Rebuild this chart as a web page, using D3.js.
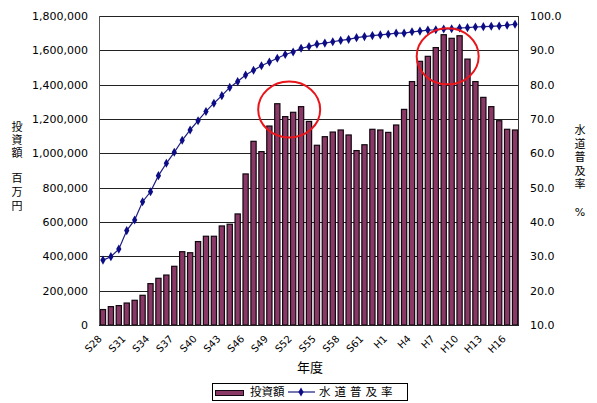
<!DOCTYPE html>
<html>
<head>
<meta charset="utf-8">
<script src="https://cdn.jsdelivr.net/npm/d3@7"></script>
<style>
  body { margin: 0; background: #fff; }
  text { font-family: "DejaVu Sans", sans-serif; fill: #000; }
  .jp { font-family: "Noto Sans CJK JP", sans-serif; }
  .vt { writing-mode: vertical-rl; text-orientation: upright; }
</style>
</head>
<body>
<div id="chart"></div>
<script>
// 年度 (S28 - H17)
var years = [];
for (var i = 28; i <= 63; i++) years.push("S" + i);
for (var j = 1; j <= 17; j++) years.push("H" + j);

// 投資額 (百万円)
var invest = [
  90000, 107000, 113000, 128000, 144000, 173000, 241000, 272000, 291000, 342000,
  427000, 421000, 486000, 517000, 517000, 577000, 587000, 647000, 880000, 1070000,
  1010000, 1159000, 1289000, 1214000, 1239000, 1272000, 1186000, 1047000, 1097000, 1124000,
  1136000, 1107000, 1016000, 1050000, 1140000, 1136000, 1122000, 1165000, 1256000, 1418000,
  1536000, 1565000, 1616000, 1691000, 1670000, 1685000, 1549000, 1418000, 1326000, 1272000,
  1190000, 1140000, 1136000
];

// 水道普及率 (%)
var coverage = [
  28.9, 29.9, 32.1, 37.5, 40.6, 45.9, 48.8, 53.5, 57.1, 60.3,
  63.8, 66.8, 69.5, 72.2, 74.6, 76.8, 79.2, 80.9, 82.8, 84.2,
  85.5, 86.6, 87.7, 88.8, 89.5, 90.6, 91.1, 91.8, 92.1, 92.5,
  92.9, 93.2, 93.7, 94.0, 94.3, 94.5, 94.7, 95.0, 95.0, 95.4,
  95.6, 95.9, 96.0, 96.2, 96.3, 96.5, 96.6, 96.8, 96.9, 97.0,
  97.1, 97.3, 97.6
];

var leftTicks = [0, 200000, 400000, 600000, 800000, 1000000, 1200000, 1400000, 1600000, 1800000];
var rightTicks = [10, 20, 30, 40, 50, 60, 70, 80, 90, 100];
var xLabels = ["S28", "S31", "S34", "S37", "S40", "S43", "S46", "S49", "S52", "S55", "S58", "S61", "H1", "H4", "H7", "H10", "H13", "H16"];

// highlighted peaks (center category, center value)
var highlights = [
  { year: "S52", value: 1255000 },
  { year: "H9", value: 1565000 }
];

var width = 597, height = 403;
var plotL = 99, plotR = 519, plotT = 16, plotB = 325;

var svg = d3.select("#chart").append("svg")
  .attr("width", width)
  .attr("height", height);

var x = d3.scaleBand().domain(years).range([plotL, plotR]).paddingInner(0.34).paddingOuter(0.17);
var xStep = d3.scaleBand().domain(years).range([plotL, plotR]);
var y = d3.scaleLinear().domain([0, 1800000]).range([plotB, plotT]);
var y2 = d3.scaleLinear().domain([10, 100]).range([plotB, plotT]);

// gridlines
svg.append("g")
  .selectAll("line")
  .data(leftTicks)
  .enter()
  .append("line")
  .attr("x1", plotL)
  .attr("x2", plotR)
  .attr("y1", d => Math.round(y(d)) + 0.5)
  .attr("y2", d => Math.round(y(d)) + 0.5)
  .attr("stroke", "#222")
  .attr("stroke-width", 1);

// bars
svg.append("g")
  .selectAll("rect")
  .data(invest)
  .enter()
  .append("rect")
  .attr("x", (d, i) => x(years[i]))
  .attr("y", d => y(d))
  .attr("width", x.bandwidth())
  .attr("height", d => plotB - y(d))
  .attr("fill", "#8a3865")
  .attr("stroke", "#120810")
  .attr("stroke-width", 1.2);

// frame
svg.append("line").attr("x1", plotL + 0.5).attr("x2", plotL + 0.5).attr("y1", plotT).attr("y2", plotB)
  .attr("stroke", "#555");
svg.append("line").attr("x1", plotR - 0.5).attr("x2", plotR - 0.5).attr("y1", plotT).attr("y2", plotB)
  .attr("stroke", "#333");
svg.append("line").attr("x1", plotL).attr("x2", plotR).attr("y1", plotB + 0.5).attr("y2", plotB + 0.5)
  .attr("stroke", "#222");

// line
var line = d3.line()
  .x((d, i) => xStep(years[i]) + xStep.bandwidth() / 2)
  .y(d => y2(d));

svg.append("path")
  .datum(coverage)
  .attr("d", line)
  .attr("fill", "none")
  .attr("stroke", "#1c1c80")
  .attr("stroke-width", 1.2);

var diamond = d3.symbol().type(d3.symbolDiamond).size(24);
svg.append("g")
  .selectAll("path")
  .data(coverage)
  .enter()
  .append("path")
  .attr("d", diamond)
  .attr("transform", (d, i) => "translate(" + (xStep(years[i]) + xStep.bandwidth() / 2) + "," + y2(d) + ")")
  .attr("fill", "#0c0c86");

// highlight circles
svg.append("g")
  .selectAll("ellipse")
  .data(highlights)
  .enter()
  .append("ellipse")
  .attr("cx", d => xStep(d.year))
  .attr("cy", d => y(d.value))
  .attr("rx", 31)
  .attr("ry", 28)
  .attr("fill", "none")
  .attr("stroke", "#e8161b")
  .attr("stroke-width", 2);

// left axis labels
svg.append("g")
  .selectAll("text")
  .data(leftTicks)
  .enter()
  .append("text")
  .attr("x", 88)
  .attr("y", d => y(d))
  .attr("dy", "0.35em")
  .attr("text-anchor", "end")
  .style("font-size", "11px")
  .text(d => d3.format(",")(d));

// right axis labels
svg.append("g")
  .selectAll("text")
  .data(rightTicks)
  .enter()
  .append("text")
  .attr("x", 530)
  .attr("y", d => y2(d))
  .attr("dy", "0.35em")
  .style("font-size", "11px")
  .text(d => d.toFixed(1));

// x labels
svg.append("g")
  .selectAll("text")
  .data(xLabels)
  .enter()
  .append("text")
  .attr("transform", d => "translate(" + (xStep(d) + xStep.bandwidth() / 2 - 3) + "," + (plotB + 12) + ") rotate(-45)")
  .attr("text-anchor", "end")
  .attr("dy", "0.35em")
  .style("font-size", "10px")
  .text(d => d);

// axis titles (vertical text)
function vertical(label, cx, topY, spacing) {
  svg.append("text")
    .attr("class", "jp vt")
    .attr("x", cx)
    .attr("y", topY)
    .style("font-size", "11px")
    .style("letter-spacing", spacing + "px")
    .text(label);
}
vertical("投資額", 17, 121.5, 2);
vertical("百万円", 17, 172.5, 3);
vertical("水道普及率", 580, 124.5, 2.5);
svg.append("text")
  .attr("x", 580).attr("y", 212).attr("dy", "0.35em")
  .attr("text-anchor", "middle")
  .style("font-size", "11px")
  .text("%");

svg.append("text")
  .attr("class", "jp")
  .attr("x", 310).attr("y", 367).attr("dy", "0.35em")
  .attr("text-anchor", "middle")
  .style("font-size", "13px")
  .text("年度");

// legend
var legend = svg.append("g");
legend.append("rect")
  .attr("x", 212.5).attr("y", 383.5).attr("width", 195).attr("height", 17)
  .attr("fill", "#fff").attr("stroke", "#000");
legend.append("rect")
  .attr("x", 215.5).attr("y", 390.5).attr("width", 28).attr("height", 5)
  .attr("fill", "#8a3865").attr("stroke", "#120810");
legend.append("text")
  .attr("class", "jp")
  .attr("x", 250).attr("y", 392).attr("dy", "0.35em")
  .style("font-size", "11.5px")
  .text("投資額");
legend.append("line")
  .attr("x1", 288).attr("x2", 315).attr("y1", 392).attr("y2", 392)
  .attr("stroke", "#1c1c80").attr("stroke-width", 1.2);
legend.append("path")
  .attr("d", diamond)
  .attr("transform", "translate(301,392)")
  .attr("fill", "#0c0c86");
legend.append("text")
  .attr("class", "jp")
  .attr("x", 319).attr("y", 392).attr("dy", "0.35em")
  .style("font-size", "11.5px")
  .style("letter-spacing", "4px")
  .text("水道普及率");
</script>
</body>
</html>
